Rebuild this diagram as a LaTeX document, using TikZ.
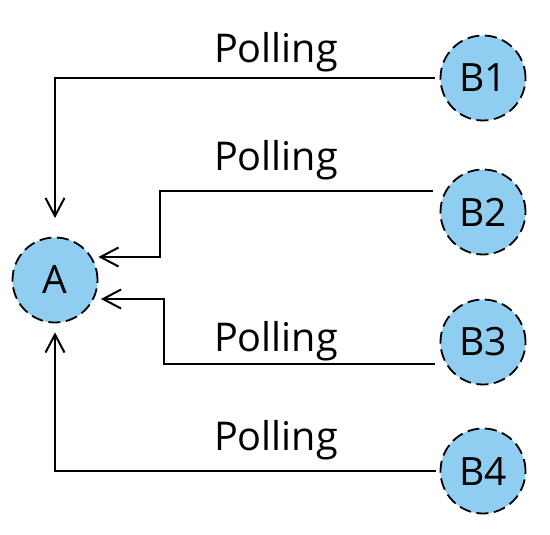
\documentclass[tikz,border=0pt]{standalone}
\usepackage{fontspec}
\setmainfont{Open Sans}
\usetikzlibrary{arrows.meta,calc}

\definecolor{nodeblue}{RGB}{143,206,241}

\tikzset{
  peer/.style={circle, draw, dash pattern=on 6pt off 2.8pt, fill=nodeblue,
    line width=0.9pt, minimum size=42.5pt, inner sep=0pt,
    font=\fontsize{19.5}{23}\selectfont},
  poll/.style={-{Straight Barb[length=9pt,width=9.5pt]}, line width=1pt},
  lbl/.style={anchor=base, font=\fontsize{19.8}{23}\selectfont}
}

\begin{document}
\begin{tikzpicture}[x=0.5pt,y=-0.5pt]
    \useasboundingbox (0,0) rectangle (550,534);

    % the polled node and its four pollers
    \node[peer] (A) at (55,280) {A};
    \node[peer] (B1) at (483,78) {B1};
    \node[peer] (B2) at (483,212) {B2};
    \node[peer] (B3) at (483,342) {B3};
    \node[peer] (B4) at (483,471) {B4};

    \draw[poll, shorten <=2.5pt, shorten >=9.25pt] (B1.west) -| (A.north);
    \draw[poll] ($(B2.west)+(-7,-21)$) -- ++(-273,0) |- ($(A.east)+(0,-23)$);
    \draw[poll] ($(B3.west)+(-5,22)$) -- ++(-271,0) |- ($(A.east)+(2.5,19)$);
    \draw[poll, shorten <=2pt, shorten >=4.5pt] (B4.west) -| (A.south);

    \node[lbl] (poll1) at (276,63) {Polling};
    \node[lbl] (poll2) at (276,170) {Polling};
    \node[lbl] (poll3) at (276,351) {Polling};
    \node[lbl] (poll4) at (276,450) {Polling};
\end{tikzpicture}
\end{document}
